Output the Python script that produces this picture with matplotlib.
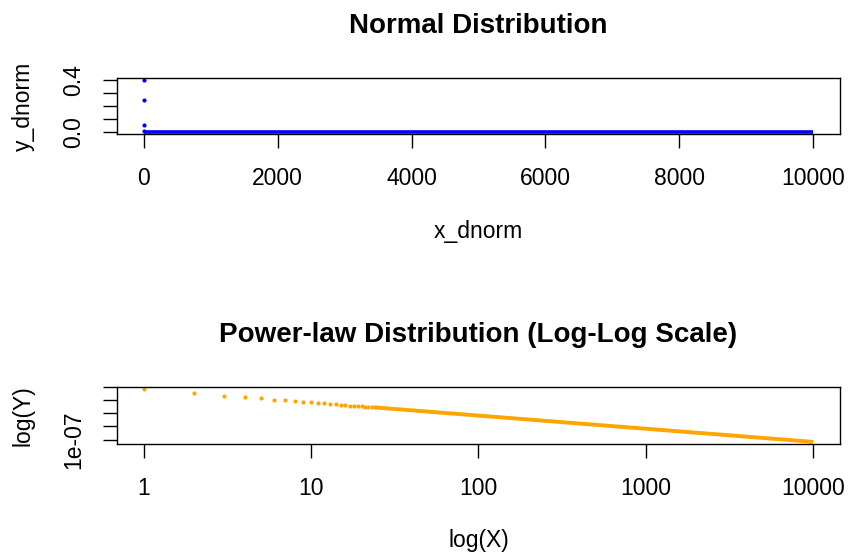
import matplotlib
matplotlib.use("Agg")
import matplotlib.pyplot as plt
import matplotlib.transforms as mtransforms

plt.rcParams['font.family'] = ['Liberation Sans', 'DejaVu Sans']

# Normal distribution: the few visible dots, then the flat run along y=0
x_dnorm = [0, 1, 2, 3]
y_dnorm = [0.399, 0.242, 0.054, 0.004]
x_dnorm_flat = [0, 10000]
y_dnorm_flat = [0.0, 0.0]
x_ticks_top = [0, 2000, 4000, 6000, 8000, 10000]
y_ticks_top = [0.0, 0.1, 0.2, 0.3, 0.4]
y_labels_top = ['0.0', '', '', '', '0.4']

# Power-law: separate dots at small x, then the dense run of dots
x_pow = [1, 2, 3, 4, 5, 6, 7, 8, 9, 10, 11, 12, 13, 14, 15, 16, 17, 18, 19, 20,
         21, 22, 23, 24]
y_pow = [6.7e-4, 3.35e-4, 2.23e-4, 1.68e-4, 1.34e-4, 1.12e-4, 9.6e-5, 8.4e-5,
         7.4e-5, 6.7e-5, 6.1e-5, 5.6e-5, 5.2e-5, 4.8e-5, 4.5e-5, 4.2e-5,
         3.9e-5, 3.7e-5, 3.5e-5, 3.35e-5, 3.2e-5, 3.05e-5, 2.9e-5, 2.8e-5]
x_pow_dense = [24, 100, 1000, 10000]
y_pow_dense = [2.8e-5, 6.7e-6, 6.7e-7, 6.7e-8]
x_ticks_bot = [1, 10, 100, 1000, 10000]
x_labels_bot = ['1', '10', '100', '1000', '10000']
y_ticks_bot = [1e-7, 1e-6, 1e-5, 1e-4, 1e-3]
y_labels_bot = ['1e-07', '', '', '', '']

W, H = 849, 557
fig = plt.figure(figsize=(W / 100, H / 100), dpi=100)

def axes_px(left, top, right, bottom):
    return fig.add_axes([left / W, 1 - bottom / H, (right - left) / W, (bottom - top) / H])

ax1 = axes_px(117, 78, 840, 134)
ax2 = axes_px(117, 387, 840, 444)

def style(ax, title, xlabel, ylabel, xlab_base, ylab_base=29.5):
    ax.set_title(title, fontsize=20, fontweight='bold', pad=32.5)
    for s in ax.spines.values():
        s.set_linewidth(1.0)
    ax.tick_params(axis='both', length=10, width=1.0, labelsize=16.5)
    ax.tick_params(axis='x', pad=14)
    ax.tick_params(axis='y', pad=16.5)
    for t in ax.yaxis.get_major_ticks():
        t.label1.set_rotation(90)
        t.label1.set_rotation_mode('anchor')
        t.label1.set_ha('center')
        t.label1.set_va('baseline')
    ax.set_xlabel(xlabel, fontsize=16.5, ha='center', va='baseline')
    ax.xaxis.set_label_coords(0.5, 1 - xlab_base / H,
                              transform=mtransforms.blended_transform_factory(ax.transAxes, fig.transFigure))
    ax.set_ylabel(ylabel, fontsize=16.5, rotation=90, rotation_mode='anchor', ha='center', va='baseline')
    ax.yaxis.set_label_coords(ylab_base / W, 0.5,
                              transform=mtransforms.blended_transform_factory(fig.transFigure, ax.transAxes))

# top panel
ax1.plot(x_dnorm_flat, y_dnorm_flat, color='#0000FF', lw=2.6, solid_capstyle='butt')
ax1.plot(x_dnorm, y_dnorm, 'o', color='#0000FF', ms=3.0, mew=0)
ax1.set_xlim(-400, 10400)
ax1.set_ylim(-0.016, 0.415)
ax1.set_xticks(x_ticks_top, [str(v) for v in x_ticks_top])
ax1.set_yticks(y_ticks_top, y_labels_top)
style(ax1, 'Normal Distribution', 'x_dnorm', 'y_dnorm', 238)

# bottom panel
ax2.set_xscale('log')
ax2.set_yscale('log')
ax2.plot(x_pow_dense, y_pow_dense, color='#FFA500', lw=2.8, solid_capstyle='butt')
ax2.plot(x_pow, y_pow, 'o', color='#FFA500', ms=3.0, mew=0)
ax2.set_xlim(10 ** -0.16, 10 ** 4.16)
ax2.set_ylim(10 ** -7.334, 10 ** -3.014)
ax2.set_xticks(x_ticks_bot, x_labels_bot)
ax2.set_yticks(y_ticks_bot, y_labels_bot)
ax2.minorticks_off()
style(ax2, 'Power-law Distribution (Log-Log Scale)', 'log(X)', 'log(Y)', 547)

fig.savefig('out.png', dpi=100)
